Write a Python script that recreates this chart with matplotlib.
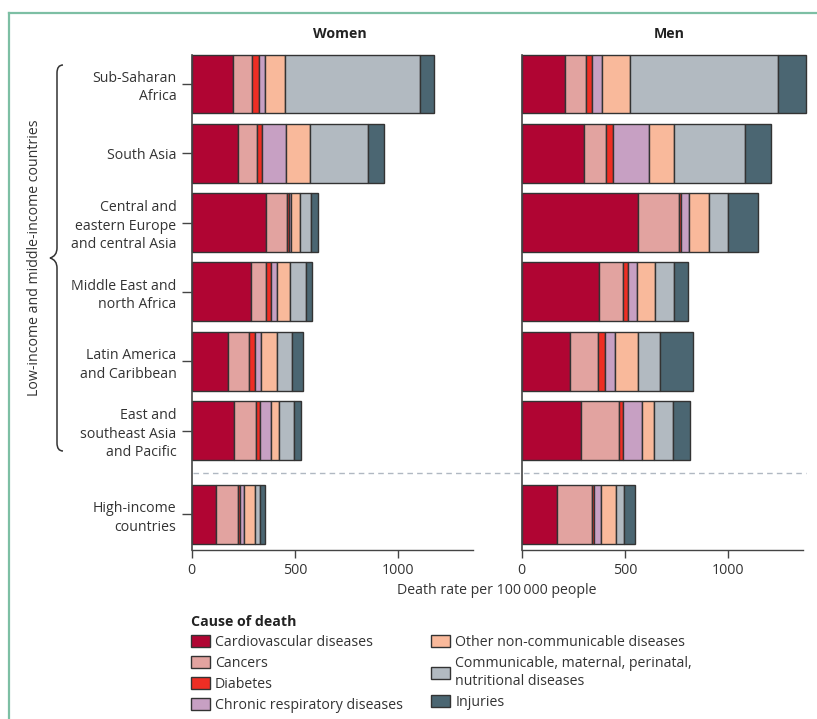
import matplotlib
matplotlib.use('Agg')
import matplotlib.pyplot as plt
import matplotlib.transforms as mtransforms
from matplotlib.path import Path
from matplotlib.patches import PathPatch, Patch
from matplotlib.lines import Line2D

plt.rcParams['font.family'] = ['Open Sans', 'DejaVu Sans']

# ---------------- data ----------------
regions = ["Sub-Saharan\nAfrica", "South Asia", "Central and\neastern Europe\nand central Asia",
           "Middle East and\nnorth Africa", "Latin America\nand Caribbean",
           "East and\nsoutheast Asia\nand Pacific", "High-income\ncountries"]
causes = ["Cardiovascular diseases", "Cancers", "Diabetes", "Chronic respiratory diseases",
          "Other non-communicable diseases", "Communicable, maternal, perinatal,\nnutritional diseases",
          "Injuries"]
colors = ["#b00533", "#e2a3a0", "#ee2e24", "#c7a0c3", "#f9b99b", "#b2bac1", "#4b6672"]

women_cvd = [198, 225, 358, 285, 174, 203, 119]
women_cancer = [95, 89, 104, 76, 102, 107, 105]
women_diabetes = [33, 26, 8, 24, 32, 20, 10]
women_crd = [27, 115, 9, 29, 27, 55, 18]
women_other_ncd = [100, 116, 47, 62, 76, 37, 55]
women_communicable = [651, 283, 49, 77, 76, 71, 24]
women_injuries = [70, 75, 38, 28, 53, 37, 24]

men_cvd = [208, 302, 565, 372, 233, 285, 169]
men_cancer = [101, 108, 198, 119, 137, 186, 169]
men_diabetes = [32, 32, 8, 24, 32, 18, 12]
men_crd = [47, 172, 39, 45, 47, 92, 33]
men_other_ncd = [135, 121, 98, 87, 113, 57, 74]
men_communicable = [718, 344, 92, 90, 108, 96, 36]
men_injuries = [136, 129, 145, 68, 161, 82, 54]

women = [women_cvd, women_cancer, women_diabetes, women_crd, women_other_ncd,
         women_communicable, women_injuries]
men = [men_cvd, men_cancer, men_diabetes, men_crd, men_other_ncd,
       men_communicable, men_injuries]

xticks = [0, 500, 1000]

# ---------------- layout ----------------
W, H = 817, 719
fig = plt.figure(figsize=(W / 100, H / 100), dpi=100)

ypos = [0, 1, 2, 3, 4, 5, 6.21]
sep_y = 5.613
xmax = 1430
ax_w = 295.6 / W
ax_h = 500 / H
ax_b = 1 - 550 / H
ax1 = fig.add_axes([191.7 / W, ax_b, ax_w, ax_h])
ax2 = fig.add_axes([521.7 / W, ax_b, ax_w, ax_h])

edge = "#333333"
fs = 10.2

for ax, data, title in [(ax1, women, "Women"), (ax2, men, "Men")]:
    left = [0] * len(ypos)
    for vals, col in zip(data, colors):
        ax.barh(ypos, vals, left=left, height=0.85, color=col, edgecolor=edge,
                linewidth=1.0, clip_on=False)
        left = [a + b for a, b in zip(left, vals)]
    ax.set_xlim(0, xmax)
    ax.set_ylim(6.724, -0.49)
    for s in ["top", "right"]:
        ax.spines[s].set_visible(False)
    ax.spines["bottom"].set_bounds(0, 1360)
    ax.spines["left"].set_bounds(6.724, -0.425)
    ax.spines["bottom"].set_color("#444444")
    ax.spines["left"].set_color("#444444")
    ax.spines["bottom"].set_linewidth(1.0)
    ax.spines["left"].set_linewidth(1.2)
    ax.set_xticks(xticks)
    ax.set_xticklabels([str(t) for t in xticks], fontsize=fs, color="#333333")
    ax.tick_params(axis="x", length=6, width=1, color="#444444", pad=3)
    ax.set_title(title, fontsize=fs, fontweight="bold", pad=9, color="#222222")
    ax.set_facecolor("none")

ax1.set_yticks(ypos)
ax1.set_yticklabels(regions, fontsize=fs, color="#333333", linespacing=1.3)
ax1.tick_params(axis="y", length=7, width=1, color="#444444", pad=4)
ax2.set_yticks([])

fig.text(497 / W, 1 - 590 / H, "Death rate per 100\u2009000 people", ha="center", va="center",
         fontsize=fs, color="#333333")

# dashed separator across both panels
blend = mtransforms.blended_transform_factory(fig.transFigure, ax1.transData)
fig.add_artist(Line2D([193 / W, 806 / W], [sep_y, sep_y], transform=blend,
                      color="#b0b8c2", linestyle=(0, (4, 3)), linewidth=1.0))

# brace for low/middle income group
def px(x, y):
    return (x / W, 1 - y / H)

top, mid, bot = 65, 258, 451
xv, xt, xp = 57, 63, 50
verts = [px(xt, top), px(xv, top), px(xv, top + 8), px(xv, top + 8),
         px(xv, mid - 10), px(xv, mid - 2), px(xp, mid),
         px(xv, mid + 2), px(xv, mid + 10),
         px(xv, bot - 8), px(xv, bot - 8), px(xv, bot), px(xt, bot)]
codes = [Path.MOVETO, Path.CURVE3, Path.CURVE3, Path.LINETO,
         Path.LINETO, Path.CURVE3, Path.CURVE3,
         Path.CURVE3, Path.CURVE3,
         Path.LINETO, Path.LINETO, Path.CURVE3, Path.CURVE3]
brace = PathPatch(Path(verts, codes), transform=fig.transFigure, fill=False,
                  edgecolor="#333333", linewidth=1.1)
fig.add_artist(brace)
fig.text(35 / W, 1 - 258 / H, "Low-income and middle-income countries", rotation=90,
         ha="center", va="center", fontsize=fs, color="#333333")

# green frame
frame_col = "#7dbfa4"
fig.add_artist(Line2D([9 / W, 1.0], [1 - 13 / H, 1 - 13 / H], transform=fig.transFigure,
                      color=frame_col, linewidth=1.6))
fig.add_artist(Line2D([9 / W, 9 / W], [1 - 13 / H, 0], transform=fig.transFigure,
                      color=frame_col, linewidth=1.6))

# legend
handles = [Patch(facecolor=c, edgecolor=edge, linewidth=1.0) for c in colors]
leg = fig.legend(handles, causes, loc="upper left", bbox_to_anchor=(181 / W, 1 - 605 / H),
                 ncol=2, frameon=False, fontsize=fs, title="Cause of death",
                 title_fontproperties={"weight": "bold", "size": fs},
                 alignment="left", handlelength=1.35, handleheight=0.95,
                 handletextpad=0.35, labelspacing=0.42, columnspacing=2.0,
                 borderpad=0.2)
for t in leg.get_texts():
    t.set_color("#333333")
    t.set_linespacing(1.25)
leg.get_title().set_color("#222222")

fig.savefig("out.png", dpi=100)
